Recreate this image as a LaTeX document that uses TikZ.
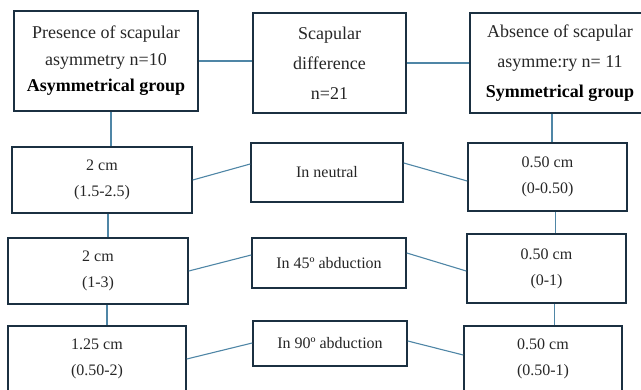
\documentclass[tikz,border=0pt]{standalone}
\usepackage{fontspec}
\setmainfont{Liberation Serif}
\definecolor{boxline}{HTML}{1B3041}
\definecolor{linkblue}{HTML}{4F86A6}
\definecolor{txt}{HTML}{262626}
\begin{document}
\begin{tikzpicture}[x=1pt,y=-1pt,
    box/.style={draw=boxline,line width=1.6pt,inner sep=0pt,align=center,text=txt},
    head/.style={box,font=\fontsize{18}{30}\selectfont,minimum height=100pt},
    cell/.style={box,font=\fontsize{16}{26}\selectfont},
    link/.style={draw=linkblue,line width=1.1pt}]
    \useasboundingbox (0,0) rectangle (641,390);
    \clip (0,0) rectangle (641,390);
    % top row
    \node[head,minimum width=184pt,font=\fontsize{18}{26.5}\selectfont] (presence) at (106,61)
        {Presence of scapular\\asymmetry n=10\\\textbf{\color{black}Asymmetrical group}};
    \node[head,minimum width=153pt] (diff) at (329.5,63) {Scapular\\difference\\n=21};
    \node[head,minimum width=180pt] (absence) at (560,63)
        {Absence of scapular\\asymme:ry n= 11\\\textbf{\color{black}Symmetrical group}};
    % neutral
    \node[cell,minimum width=180pt,minimum height=66pt] (lneu) at (102,180) {2 cm\\(1.5-2.5)};
    \node[cell,minimum width=152pt,minimum height=59pt] (cneu) at (327,172.5) {In neutral};
    \node[cell,minimum width=159pt,minimum height=68pt] (rneu) at (547.5,177) {0.50 cm\\(0-0.50)};
    % 45 abduction
    \node[cell,minimum width=180pt,minimum height=66pt] (l45) at (98,271) {2 cm\\(1-3)};
    \node[cell,minimum width=154pt,minimum height=50pt] (c45) at (329,263) {In 45º abduction};
    \node[cell,minimum width=159pt,minimum height=69pt] (r45) at (546.5,268.5) {0.50 cm\\(0-1)};
    % 90 abduction
    \node[cell,minimum width=178pt,minimum height=66pt] (l90) at (97,359) {1.25 cm\\(0.50-2)};
    \node[cell,minimum width=154pt,minimum height=45pt] (c90) at (330,343.5) {In 90º abduction};
    \node[cell,minimum width=158pt,minimum height=66pt] (r90) at (543,359) {0.50 cm\\(0.50-1)};

    \draw[link] (presence.east) -- (presence.east -| diff.west);
    \draw[link] (diff.east) -- (absence.west);
    \draw[link] ([xshift=5]presence.south) -- ([xshift=5]presence.south |- lneu.north);
    \draw[link] ([xshift=6]lneu.south) -- ([xshift=6]lneu.south |- l45.north);
    \draw[link] ([xshift=9]l45.south) -- ([xshift=9]l45.south |- l90.north);
    \draw[link] ([xshift=-8]absence.south) -- ([xshift=-8]absence.south |- rneu.north);
    \draw[link] ([xshift=8]rneu.south) -- ([xshift=8]rneu.south |- r45.north);
    \draw[link] ([xshift=8]r45.south) -- ([xshift=8]r45.south |- r90.north);
    \draw[link] (lneu.east) -- ([yshift=8.5]cneu.west);
    \draw[link] ([yshift=9.5]cneu.east) -- ([yshift=-4]rneu.west);
    \draw[link] (l45.east) -- ([yshift=8]c45.west);
    \draw[link] ([yshift=10]c45.east) -- ([yshift=-2.5]r45.west);
    \draw[link] (l90.east) -- ([yshift=0.5]c90.west);
    \draw[link] ([yshift=2.5]c90.east) -- ([yshift=4]r90.west);
\end{tikzpicture}
\end{document}
